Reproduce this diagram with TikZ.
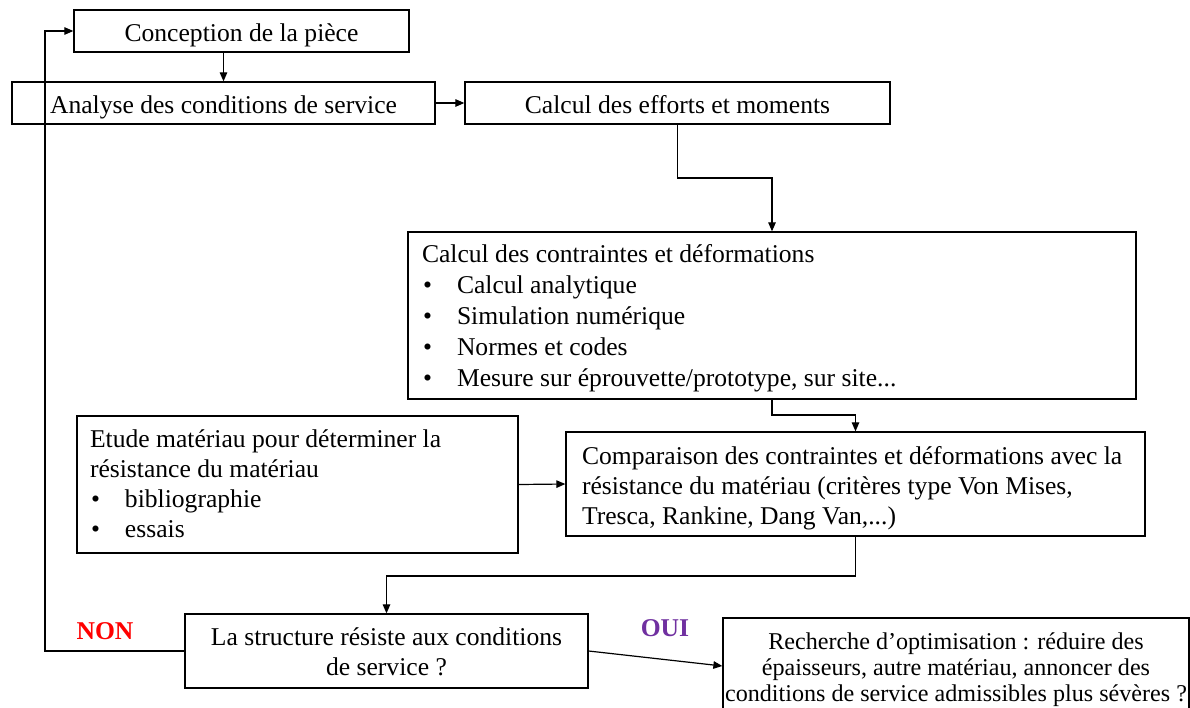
\documentclass[tikz,border=0pt]{standalone}
\usepackage{fontspec}
\setmainfont{Liberation Serif}
\usetikzlibrary{arrows.meta}
\definecolor{nonred}{RGB}{255,0,0}
\definecolor{ouipurple}{RGB}{112,48,160}
\newcommand{\bodyfont}{\fontsize{25.6}{31}\selectfont}
\newcommand{\bul}{\makebox[35pt][l]{\hspace{1pt}•}}
\begin{document}
\begin{tikzpicture}[x=1pt,y=-1pt,
  box/.style={draw, line width=1.3pt, inner sep=0pt, font=\bodyfont},
  onebox/.style={box, text height=24pt, text depth=4pt, minimum height=42pt},
  arr/.style={-{Triangle[length=9pt,width=7.5pt]}, line width=1.2pt},
  lbl/.style={inner sep=0pt, font=\fontsize{25.6}{31}\selectfont\bfseries}]
\useasboundingbox (0,0) rectangle (1190,707);
\clip (0,0) rectangle (1190,707);

\node[onebox, minimum width=335pt] (b1) at (241.5,31) {Conception de la pièce};
\node[onebox, minimum width=423pt] (b2) at (223.5,103) {Analyse des conditions de service};
\node[onebox, minimum width=425pt] (b3) at (677.5,103) {Calcul des efforts et moments};

\node[box, minimum width=728pt, minimum height=167pt] (b4) at (772,315.5)
 {\raisebox{0pt}[20pt][127pt]{\parbox[t]{700pt}{\bodyfont\raggedright
  Calcul des contraintes et déformations\\
  \bul Calcul analytique\\
  \bul Simulation numérique\\
  \bul Normes et codes\\
  \bul Mesure sur éprouvette/prototype, sur site...}}};

\node[box, minimum width=579pt, minimum height=104pt] (b5) at (855.5,484)
 {\raisebox{0pt}[20pt][60pt]{\parbox[t]{547pt}{\fontsize{25.6}{30}\selectfont\raggedright
  Comparaison des contraintes et déformations avec la\\
  résistance du matériau (critères type Von Mises,\\
  Tresca, Rankine, Dang Van,...)}}};

\node[box, minimum width=441pt, minimum height=137pt] (b6) at (297.5,484.5)
 {\raisebox{0pt}[20pt][95pt]{\parbox[t]{415pt}{\fontsize{25.6}{30}\selectfont\raggedright
  Etude matériau pour déterminer la\\
  résistance du matériau\\
  \bul bibliographie\\
  \bul essais}}};

\node[box, minimum width=403pt, minimum height=74pt] (b7) at (386.5,651)
 {\raisebox{0pt}[20pt][32pt]{\parbox[t]{403pt}{\fontsize{25.6}{30}\selectfont\centering
  La structure résiste aux conditions\\
  de service ?}}};

\node[box, minimum width=466pt, minimum height=105pt] (b8) at (956,670.5)
 {\raisebox{0pt}[20pt][63pt]{\parbox[t]{466pt}{\fontsize{24.1}{26}\selectfont\centering
  Recherche d’optimisation : réduire des\\
  épaisseurs, autre matériau, annoncer des\\
  conditions de service admissibles plus sévères ?}}};

\node[lbl, text=nonred] (non) at (105,631.5) {NON};
\node[lbl, text=ouipurple] (oui) at (665,628.5) {OUI};

\coordinate (k1) at (0,178);
\coordinate (k2) at (0,415);
\coordinate (k3) at (0,576);
\coordinate (k4) at (0,666);
\coordinate (k5) at (45,300);

\draw[arr] (b2.north |- b1.south) -- (b2.north);
\draw[arr] (b2.east) -- (b3.west);
\draw[arr] (b3.south) -- (b3.south |- k1) -| (b4.north);
\draw[arr] (b4.south) -- (b4.south |- k2) -| (b5.north);
\draw[arr] (b6.east) -- (b5.west);
\draw[arr] (b5.south) -- (b5.south |- k3) -| (b7.north);
\draw[arr] (b7.east) -- (b8.west |- k4);
\draw[arr] (b7.west) -| (k5) |- (b1.west);
\end{tikzpicture}
\end{document}
